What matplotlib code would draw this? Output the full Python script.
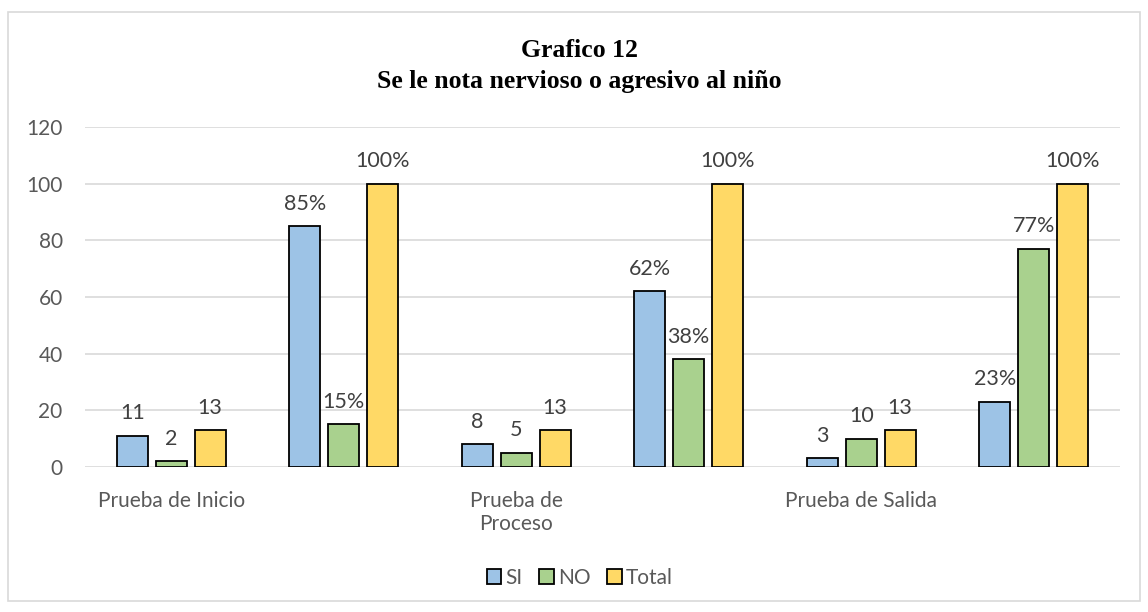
import matplotlib
matplotlib.use('Agg')
import matplotlib.pyplot as plt
import numpy as np
from matplotlib.patches import Rectangle

plt.rcParams['font.family'] = ['Lato', 'DejaVu Sans']

categories = ['Prueba de Inicio', '', 'Prueba de\nProceso', '', 'Prueba de Salida', '']
si = [11, 85, 8, 62, 3, 23]
no = [2, 15, 5, 38, 10, 77]
total = [13, 100, 13, 100, 13, 100]
series = ['SI', 'NO', 'Total']
colors = ['#9DC3E6', '#A9D18E', '#FFD966']

fig = plt.figure(figsize=(11.48, 6.12), dpi=100)
ax = fig.add_axes([0.074, 0.237, 0.9016, 0.5555])

x = np.arange(len(categories))
w = 0.18
step = 0.226
for i, (vals, name, c) in enumerate(zip([si, no, total], series, colors)):
    bars = ax.bar(x + (i - 1) * step, vals, w, color=c, edgecolor='black',
                  linewidth=1.3, label=name, zorder=3)
    for j, (b, v) in enumerate(zip(bars, vals)):
        txt = f'{v}%' if j % 2 == 1 else f'{v}'
        ax.annotate(txt, (b.get_x() + b.get_width() / 2, v), xytext=(0, 9),
                    textcoords='offset points', ha='center', va='bottom',
                    fontsize=15.5, color='#404040')

ax.set_ylim(0, 120)
ax.set_xlim(-0.5, len(categories) - 0.5)
ax.set_yticks(range(0, 121, 20))
ax.set_xticks(x[::2])
ax.set_xticklabels(categories[::2])
ax.tick_params(axis='both', length=0, labelsize=15, labelcolor='#595959')
ax.tick_params(axis='x', pad=17)
ax.tick_params(axis='y', pad=16)
ax.grid(axis='y', color='#D9D9D9', linewidth=1.2, zorder=0)
for s in ax.spines.values():
    s.set_visible(False)

fig.text(0.505, 0.907, 'Grafico 12', ha='center', va='baseline',
         fontsize=18.5, fontweight='bold', family='Liberation Serif')
fig.text(0.505, 0.856, 'Se le nota nervioso o agresivo al niño', ha='center',
         va='baseline', fontsize=18.5, fontweight='bold', family='Liberation Serif')

fig.legend(loc='center', bbox_to_anchor=(0.505, 0.056), ncol=3, frameon=False,
           fontsize=15, handlelength=0.7, handleheight=0.7, handletextpad=0.2,
           columnspacing=0.8, labelcolor='#595959')

fig.patches.append(Rectangle((0.007, 0.018), 0.986, 0.962, transform=fig.transFigure,
                             fill=False, edgecolor='#D9D9D9', linewidth=1.2))

fig.savefig('out.png', dpi=100)
